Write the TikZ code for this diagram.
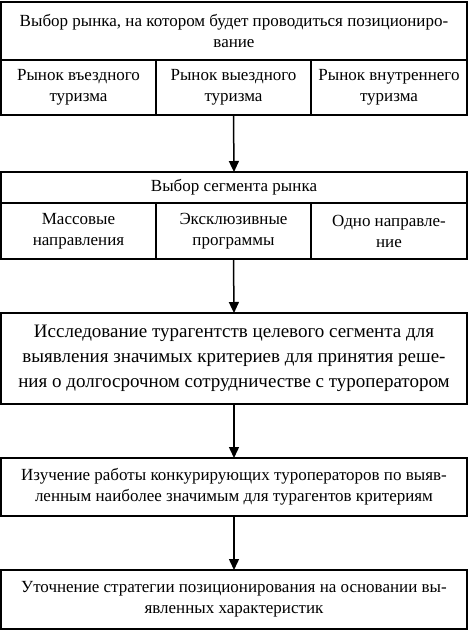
\documentclass[tikz,border=0pt]{standalone}
\usepackage{fontspec}
\setmainfont{Liberation Serif}
\usetikzlibrary{arrows.meta,positioning}

\begin{document}
\begin{tikzpicture}[x=1pt, y=1pt,
  box/.style={draw, line width=1.5pt, outer sep=0pt, inner sep=0pt, align=center,
    font=\fontsize{17}{21}\selectfont},
  bigbox/.style={box, font=\fontsize{19}{25}\selectfont},
  arr/.style={-{Triangle[length=11pt, width=10pt]}, line width=1.5pt}
]
  \useasboundingbox (0,0) rectangle (468,-630);

  % market choice
  \node[box, minimum width=466pt, minimum height=58pt] (market) at (234,-31)
    {Выбор рынка, на котором будет проводиться позициониро-\\вание};
  \node[box, minimum width=155pt, minimum height=55pt, anchor=north west] (inbound) at (market.south west)
    {Рынок въездного\\туризма};
  \node[box, minimum width=155pt, minimum height=55pt, right=0pt of inbound] (outbound)
    {Рынок выездного\\туризма};
  \node[box, minimum width=156pt, minimum height=55pt, right=0pt of outbound] (domestic)
    {Рынок внутреннего\\туризма};

  % segment choice
  \node[box, minimum width=466pt, minimum height=31pt] (segment) at (234,-187.5)
    {Выбор сегмента рынка};
  \node[box, minimum width=155pt, minimum height=56pt, anchor=north west] (mass) at (segment.south west)
    {Массовые\\направления};
  \node[box, minimum width=155pt, minimum height=56pt, right=0pt of mass] (exclusive)
    {Эксклюзивные\\программы};
  \node[box, minimum width=156pt, minimum height=56pt, right=0pt of exclusive] (single)
    {Одно направле-\\ние};

  \node[bigbox, minimum width=466pt, minimum height=91pt] (research) at (234,-358.5)
    {Исследование турагентств целевого сегмента для\\выявления значимых критериев для принятия реше-\\ния о долгосрочном сотрудничестве с туроператором};
  \node[box, minimum width=466pt, minimum height=58pt] (rivals) at (234,-487)
    {Изучение работы конкурирующих туроператоров по выяв-\\ленным наиболее значимым для турагентов критериям};
  \node[box, minimum width=466pt, minimum height=59pt] (strategy) at (234,-599.5)
    {Уточнение стратегии позиционирования на основании вы-\\явленных характеристик};

  \draw[arr] (outbound.south) -- (segment.north);
  \draw[arr] (exclusive.south) -- (research.north);
  \draw[arr] (research.south) -- (rivals.north);
  \draw[arr] (rivals.south) -- (strategy.north);
\end{tikzpicture}
\end{document}
